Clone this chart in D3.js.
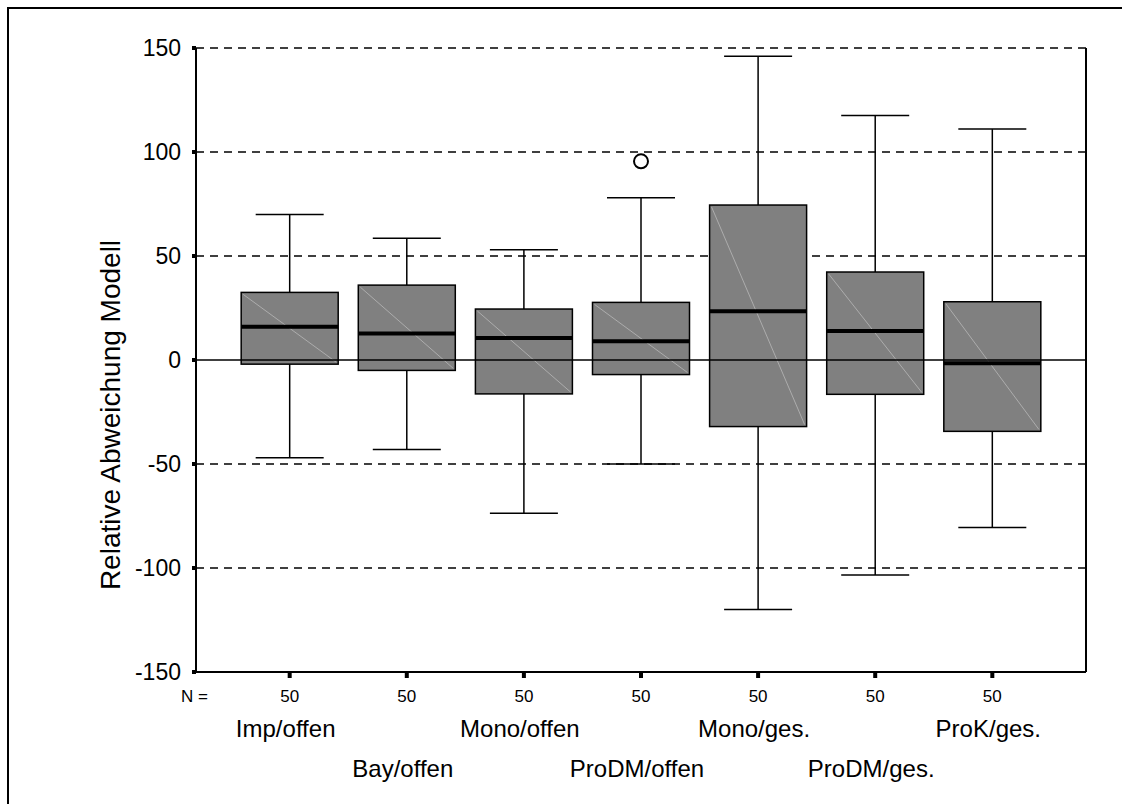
<!DOCTYPE html>
<html lang="de">
<head>
<meta charset="UTF-8">
<title>Relative Abweichung Modell</title>
<script src="https://d3js.org/d3.v7.min.js"></script>
<style>
  body { margin: 0; background: #fff; }
  svg { display: block; font-family: Arial, "Liberation Sans", sans-serif; }
</style>
</head>
<body>
<div id="chart"></div>
<script>
// values
const categories = ["Imp/offen", "Bay/offen", "Mono/offen", "ProDM/offen", "Mono/ges.", "ProDM/ges.", "ProK/ges."];
const whiskerHigh = [70, 58.5, 53, 78, 146, 117.5, 111];
const q3 = [32.5, 36, 24.5, 27.7, 74.5, 42.3, 28];
const medians = [16, 12.8, 10.6, 9, 23.4, 13.9, -1.6];
const q1 = [-2, -5, -16.3, -7, -32, -16.5, -34.3];
const whiskerLow = [-47, -43, -73.7, -50, -120, -103.4, -80.5];
const nValues = [50, 50, 50, 50, 50, 50, 50];
const outlierCats = ["ProDM/offen"];
const outlierValues = [95.5];
const yTicks = [-150, -100, -50, 0, 50, 100, 150];
const gridValues = [-100, -50, 50, 100, 150];

const W = 1122, H = 804;
const plotLeft = 196, plotRight = 1086, plotTop = 48, plotBottom = 672;

const svg = d3.select("#chart").append("svg")
    .attr("width", W).attr("height", H);

// outer frame (runs off the right and bottom edge)
svg.append("rect")
    .attr("x", 8).attr("y", 8)
    .attr("width", W).attr("height", H)
    .attr("fill", "none").attr("stroke", "#000").attr("stroke-width", 2);

const x = d3.scalePoint().domain(categories).range([plotLeft, plotRight]).padding(0.8);
const y = d3.scaleLinear().domain([-150, 150]).range([plotBottom, plotTop]);

const boxW = 97, capW = 68;

// dashed grid
svg.append("g").selectAll("line")
    .data(gridValues)
    .join("line")
    .attr("x1", plotLeft).attr("x2", plotRight)
    .attr("y1", d => y(d)).attr("y2", d => y(d))
    .attr("stroke", "#000").attr("stroke-width", 1.5)
    .attr("stroke-dasharray", "8,6");

// zero reference line
svg.append("line")
    .attr("x1", plotLeft).attr("x2", plotRight)
    .attr("y1", y(0)).attr("y2", y(0))
    .attr("stroke", "#000").attr("stroke-width", 1.5);

// boxes
const boxes = svg.append("g").selectAll("g")
    .data(categories.map((c, i) => ({ c, i })))
    .join("g");

boxes.append("line")
    .attr("x1", d => x(d.c)).attr("x2", d => x(d.c))
    .attr("y1", d => y(whiskerHigh[d.i])).attr("y2", d => y(q3[d.i]))
    .attr("stroke", "#000").attr("stroke-width", 1.5);
boxes.append("line")
    .attr("x1", d => x(d.c)).attr("x2", d => x(d.c))
    .attr("y1", d => y(q1[d.i])).attr("y2", d => y(whiskerLow[d.i]))
    .attr("stroke", "#000").attr("stroke-width", 1.5);
boxes.append("line")
    .attr("x1", d => x(d.c) - capW / 2).attr("x2", d => x(d.c) + capW / 2)
    .attr("y1", d => y(whiskerHigh[d.i])).attr("y2", d => y(whiskerHigh[d.i]))
    .attr("stroke", "#000").attr("stroke-width", 1.5);
boxes.append("line")
    .attr("x1", d => x(d.c) - capW / 2).attr("x2", d => x(d.c) + capW / 2)
    .attr("y1", d => y(whiskerLow[d.i])).attr("y2", d => y(whiskerLow[d.i]))
    .attr("stroke", "#000").attr("stroke-width", 1.5);

boxes.append("rect")
    .attr("x", d => x(d.c) - boxW / 2)
    .attr("y", d => y(q3[d.i]))
    .attr("width", boxW)
    .attr("height", d => y(q1[d.i]) - y(q3[d.i]))
    .attr("fill", "#808080").attr("stroke", "#000").attr("stroke-width", 1.5);

// faint diagonal inside each box
boxes.append("line")
    .attr("x1", d => x(d.c) - boxW / 2 + 2).attr("y1", d => y(q3[d.i]) + 2)
    .attr("x2", d => x(d.c) + boxW / 2 - 2).attr("y2", d => y(q1[d.i]) - 2)
    .attr("stroke", "#b8b8b8").attr("stroke-width", 0.8);

// zero line shows through the boxes
boxes.append("line")
    .attr("x1", d => x(d.c) - boxW / 2).attr("x2", d => x(d.c) + boxW / 2)
    .attr("y1", y(0)).attr("y2", y(0))
    .attr("stroke", "#000").attr("stroke-width", 1.5);

boxes.append("line")
    .attr("x1", d => x(d.c) - boxW / 2).attr("x2", d => x(d.c) + boxW / 2)
    .attr("y1", d => y(medians[d.i])).attr("y2", d => y(medians[d.i]))
    .attr("stroke", "#000").attr("stroke-width", 4);

// outliers
svg.append("g").selectAll("circle")
    .data(outlierValues.map((v, i) => ({ c: outlierCats[i], v })))
    .join("circle")
    .attr("cx", d => x(d.c)).attr("cy", d => y(d.v))
    .attr("r", 7)
    .attr("fill", "#fff").attr("stroke", "#000").attr("stroke-width", 2);

// frame lines of the plot area
svg.append("line")
    .attr("x1", plotLeft).attr("x2", plotLeft).attr("y1", plotTop).attr("y2", plotBottom)
    .attr("stroke", "#000").attr("stroke-width", 2);
svg.append("line")
    .attr("x1", plotLeft).attr("x2", plotRight).attr("y1", plotBottom).attr("y2", plotBottom)
    .attr("stroke", "#000").attr("stroke-width", 2);
svg.append("line")
    .attr("x1", plotRight).attr("x2", plotRight).attr("y1", plotTop).attr("y2", plotBottom)
    .attr("stroke", "#000").attr("stroke-width", 2);

// y axis: square tick marks and labels
const yAxis = svg.append("g");
yAxis.selectAll("rect")
    .data(yTicks)
    .join("rect")
    .attr("x", plotLeft - 4).attr("y", d => y(d) - 2)
    .attr("width", 4).attr("height", 4)
    .attr("fill", "#000");
yAxis.selectAll("text")
    .data(yTicks)
    .join("text")
    .attr("x", 181).attr("y", d => y(d))
    .attr("dy", "0.35em")
    .attr("text-anchor", "end")
    .attr("font-size", 23)
    .text(d => d);

svg.append("text")
    .attr("transform", "translate(110,415) rotate(-90)")
    .attr("text-anchor", "middle")
    .attr("dy", "0.35em")
    .attr("font-size", 28)
    .text("Relative Abweichung Modell");

// x axis: ticks, N row and staggered labels
const xAxis = svg.append("g");
xAxis.selectAll("rect")
    .data(categories)
    .join("rect")
    .attr("x", d => x(d) - 2).attr("y", plotBottom + 1)
    .attr("width", 4).attr("height", 5)
    .attr("fill", "#000");
xAxis.selectAll("text.n")
    .data(categories)
    .join("text")
    .attr("class", "n")
    .attr("x", d => x(d)).attr("y", 702)
    .attr("text-anchor", "middle")
    .attr("font-size", 17)
    .text((d, i) => nValues[i]);
svg.append("text")
    .attr("x", 181).attr("y", 702)
    .attr("font-size", 17)
    .text("N =");
xAxis.selectAll("text.cat")
    .data(categories)
    .join("text")
    .attr("class", "cat")
    .attr("x", d => x(d) - 4)
    .attr("y", (d, i) => i % 2 === 0 ? 737 : 777)
    .attr("text-anchor", "middle")
    .attr("font-size", 24)
    .text(d => d);
</script>
</body>
</html>
